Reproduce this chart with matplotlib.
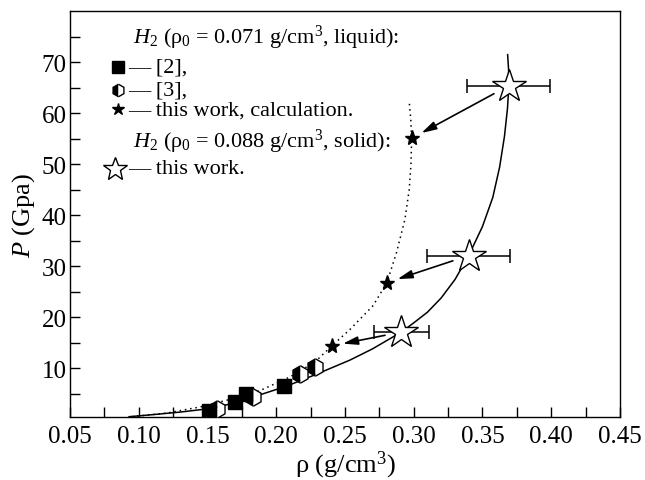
import numpy as np
import matplotlib
matplotlib.use("Agg")
import matplotlib.pyplot as plt

plt.rcParams['font.family'] = ['Liberation Serif', 'DejaVu Serif']
plt.rcParams['mathtext.fontset'] = 'custom'
plt.rcParams['mathtext.rm'] = 'Liberation Serif'
plt.rcParams['mathtext.it'] = 'Liberation Serif:italic'

# data
sq_rho = [0.151, 0.170, 0.178, 0.206]          # [2]
sq_p = [1.7, 3.4, 5.0, 6.5]
hex_rho = [0.157, 0.183, 0.217, 0.228]         # [3]
hex_p = [2.0, 4.3, 8.8, 10.3]
calc_rho = [0.2405, 0.2805, 0.2985]            # this work, calculation
calc_p = [14.4, 26.8, 55.1]
solid_rho = [0.291, 0.340, 0.369]              # this work, solid
solid_p = [17.1, 32.1, 65.4]
solid_err = [0.020, 0.030, 0.030]

# curves (solid: through the open stars, dotted: through the calc points)
line_rho = [0.093, 0.110, 0.130, 0.152, 0.170, 0.186, 0.2076, 0.229, 0.2536,
            0.270, 0.291, 0.300, 0.310, 0.320, 0.330, 0.340, 0.350, 0.3575,
            0.3625, 0.366, 0.3682, 0.3692, 0.3690, 0.3683]
line_p = [0.5, 0.9, 1.4, 2.1, 3.2, 4.6, 6.5, 8.8, 11.6,
          13.8, 17.1, 18.9, 21.0, 23.8, 27.4, 32.1, 37.8, 43.5,
          49.5, 55.5, 61.0, 65.4, 68.5, 71.5]
dot_rho = [0.095, 0.120, 0.1445, 0.165, 0.188, 0.210, 0.228, 0.2405, 0.2536,
           0.2705, 0.2805, 0.2875, 0.2936, 0.2967, 0.2980, 0.2985, 0.2978, 0.2967]
dot_p = [0.5, 1.2, 2.4, 3.8, 5.6, 8.3, 11.2, 14.4, 17.6,
         22.3, 26.8, 32.7, 39.2, 45.0, 50.0, 55.1, 59.0, 62.3]

fig = plt.figure(figsize=(6.45, 4.81), dpi=100)
ax = fig.add_axes([0.1085, 0.1316, 0.8527, 0.8428])

ax.plot(line_rho, line_p, color='black', lw=1.1)
ax.plot(dot_rho, dot_p, color='black', lw=1.1, linestyle=(0, (1, 2.5)))

ax.plot(sq_rho, sq_p, 's', color='black', ms=10.5, zorder=3)
ax.plot(hex_rho, hex_p, 'h', ms=12.5, markerfacecolor='black',
        markerfacecoloralt='white', fillstyle='left', markeredgecolor='black',
        markeredgewidth=1.0, linestyle='none', zorder=3)
ax.plot(calc_rho, calc_p, '*', color='black', ms=11, zorder=4)
ax.errorbar(solid_rho, solid_p, xerr=solid_err, fmt='none', ecolor='black',
            elinewidth=1.1, capsize=5, capthick=1.1, zorder=3)
ax.plot(solid_rho, solid_p, '*', ms=25, markerfacecolor='white',
        markeredgecolor='black', markeredgewidth=1.0, linestyle='none', zorder=5)

for x0, y0, x1, y1 in zip(solid_rho, solid_p, calc_rho, calc_p):
    ax.annotate('', xy=(x1, y1), xytext=(x0, y0),
                arrowprops=dict(arrowstyle='-|>,head_length=0.9,head_width=0.25',
                                color='black', lw=1.2, shrinkA=12, shrinkB=8))

ax.set_xlim(0.05, 0.45)
ax.set_ylim(0.5, 80)
ax.set_xticks(np.arange(0.05, 0.451, 0.05))
ax.set_xticks(np.arange(0.075, 0.45, 0.05), minor=True)
ax.set_yticks(np.arange(10, 71, 10))
ax.set_yticks(np.arange(5, 80, 10), minor=True)
ax.tick_params(which='both', direction='in', length=7, width=1.0,
               labelsize=18, top=False, right=False)
ax.tick_params(axis='x', pad=6)
ax.tick_params(axis='y', pad=2.5)
ax.set_xticklabels(['%.2f' % v for v in np.arange(0.05, 0.451, 0.05)])
for s in ax.spines.values():
    s.set_linewidth(1.0)

ax.set_xlabel(r'ρ (g/cm$^3$)', fontsize=19, labelpad=1)
ax.set_ylabel(r'$P$ (Gpa)', fontsize=19, labelpad=3)

# legend block
fs = 16
fig.text(133 / 645, 1 - 38 / 481, r'$H_2$ (ρ$_0$ = 0.071 g/cm$^3$, liquid):',
         fontsize=fs, va='center')
fig.text(128 / 645, 1 - 68 / 481, '— [2],', fontsize=fs, va='center')
fig.text(128 / 645, 1 - 91 / 481, '— [3],', fontsize=fs, va='center')
fig.text(128 / 645, 1 - 111 / 481, '— this work, calculation.', fontsize=fs, va='center')
fig.text(133 / 645, 1 - 142 / 481, r'$H_2$ (ρ$_0$ = 0.088 g/cm$^3$, solid):',
         fontsize=fs, va='center')
fig.text(128 / 645, 1 - 170 / 481, '— this work.', fontsize=fs, va='center')

tf = fig.transFigure
ax.plot([118 / 645], [1 - 68 / 481], 's', color='black', ms=8, transform=tf, clip_on=False)
ax.plot([118 / 645], [1 - 91 / 481], 'h', ms=9, markerfacecolor='black',
        markerfacecoloralt='white', fillstyle='left', markeredgecolor='black',
        transform=tf, clip_on=False)
ax.plot([118 / 645], [1 - 110 / 481], '*', color='black', ms=9, transform=tf, clip_on=False)
ax.plot([115 / 645], [1 - 170 / 481], '*', ms=18, markerfacecolor='white',
        markeredgecolor='black', markeredgewidth=1.0, transform=tf, clip_on=False)

fig.savefig('out.png', dpi=100)
